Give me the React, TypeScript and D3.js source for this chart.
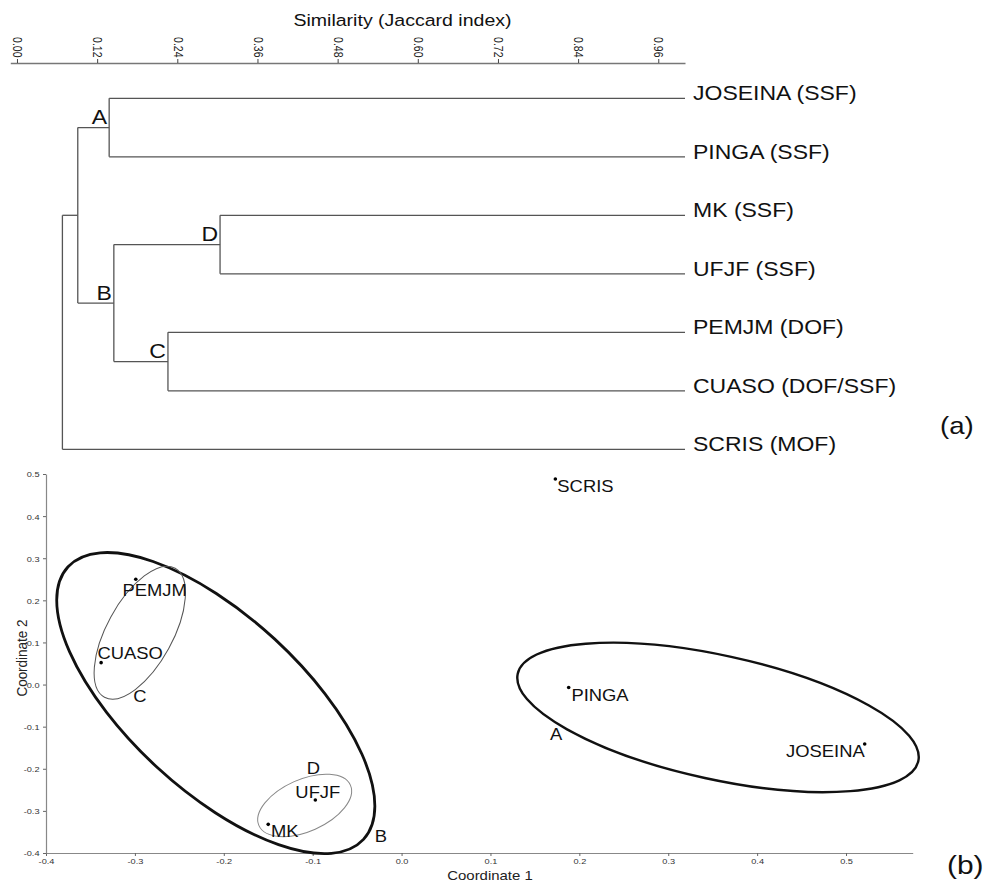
import React, { useEffect, useRef } from 'react';
import * as d3 from 'd3';

const W = 985;
const H = 884;
const FONT = '"Liberation Sans", Arial, Helvetica, sans-serif';
// the lettering in the original figure is a little stretched sideways
const SX = 1.15;

// ---- (a) dendrogram ----
const leafNames = ['JOSEINA (SSF)', 'PINGA (SSF)', 'MK (SSF)', 'UFJF (SSF)', 'PEMJM (DOF)', 'CUASO (DOF/SSF)', 'SCRIS (MOF)'];
// merges, children first
const clusterIds = ['A', 'D', 'C', 'B', 'AB', 'root'];
const clusterLeft = ['JOSEINA (SSF)', 'MK (SSF)', 'PEMJM (DOF)', 'D', 'A', 'AB'];
const clusterRight = ['PINGA (SSF)', 'UFJF (SSF)', 'CUASO (DOF/SSF)', 'C', 'B', 'SCRIS (MOF)'];
const clusterSimilarity = [0.138, 0.304, 0.226, 0.145, 0.091, 0.068];
const labelledClusters = ['A', 'B', 'C', 'D'];
const similarityTicks = [0, 0.12, 0.24, 0.36, 0.48, 0.6, 0.72, 0.84, 0.96];

// ---- (b) ordination ----
const siteNames = ['SCRIS', 'PEMJM', 'CUASO', 'UFJF', 'MK', 'PINGA', 'JOSEINA'];
const coord1 = [0.173, -0.299, -0.338, -0.097, -0.15, 0.188, 0.521];
const coord2 = [0.488, 0.25, 0.052, -0.274, -0.332, -0.007, -0.141];
const coord1Ticks = [-0.4, -0.3, -0.2, -0.1, 0, 0.1, 0.2, 0.3, 0.4, 0.5];
const coord2Ticks = [-0.4, -0.3, -0.2, -0.1, 0, 0.1, 0.2, 0.3, 0.4, 0.5];

// groups circled on the ordination, centres in coordinate units
const groupNames = ['A', 'B', 'C', 'D'];
const groupCentre1 = [0.356, -0.209, -0.2945, -0.109];
const groupCentre2 = [-0.078, -0.044, 0.123, -0.287];

// drawing details (pixels)
const groupStyle = {
  A: { rx: 205, ry: 62, angle: 12.3, width: 2.4, color: '#111', lx: -168, ly: 22.5 },
  B: { rx: 201, ry: 87, angle: 42.7, width: 2.8, color: '#111', lx: 159, ly: 139 },
  C: { rx: 73.5, ry: 33, angle: -61.3, width: 1, color: '#555', lx: -6.5, ly: 69 },
  D: { rx: 50, ry: 26, angle: -23.9, width: 1, color: '#888', lx: 2, ly: -31.3 },
};
const siteLabelOffset = {
  SCRIS: [2, 13, 'start'],
  PEMJM: [-13.3, 16.7, 'start'],
  CUASO: [-3.7, -3.4, 'start'],
  UFJF: [-20, -2.3, 'start'],
  MK: [2.7, 12.4, 'start'],
  PINGA: [2.7, 13.3, 'start'],
  JOSEINA: [0, 13.3, 'end'],
};

const App = () => {
  const ref = useRef<SVGSVGElement>(null);

  useEffect(() => {
    const svg = d3.select(ref.current);
    svg.selectAll('*').remove();
    const g = svg.append('g').attr('font-family', FONT);

    // ================= dendrogram =================
    const xSim = d3.scaleLinear().domain([-0.01, 1]).range([10.3, 685]);
    const leafY = d3.scalePoint().domain(leafNames).range([98.3, 449.3]);

    const topAxis = g.append('g')
      .attr('transform', 'translate(0,63)')
      .call(d3.axisTop(xSim).tickValues(similarityTicks).tickSize(4).tickSizeOuter(0).tickFormat(d3.format('.2f')));
    topAxis.attr('font-family', FONT);
    topAxis.select('.domain').attr('stroke', '#777').attr('stroke-width', 1.6);
    topAxis.selectAll('.tick line').attr('stroke', '#444');
    topAxis.selectAll('.tick text')
      .attr('x', 0).attr('y', 0).attr('dy', null)
      .attr('text-anchor', 'end')
      .attr('font-size', 10.5)
      .attr('fill', '#222')
      .attr('transform', `translate(-4.3,-5.5) scale(${SX},1) rotate(90)`);

    g.append('text')
      .attr('transform', `translate(402.5,26) scale(${SX},1)`)
      .attr('text-anchor', 'middle')
      .attr('font-size', 17)
      .attr('fill', '#111')
      .text('Similarity (Jaccard index)');

    const simOf = new Map<string, number>();
    const yOf = new Map<string, number>();
    leafNames.forEach((n) => { simOf.set(n, 1); yOf.set(n, leafY(n) as number); });
    clusterIds.forEach((id, i) => {
      simOf.set(id, clusterSimilarity[i]);
      yOf.set(id, ((yOf.get(clusterLeft[i]) as number) + (yOf.get(clusterRight[i]) as number)) / 2);
    });

    const tree = g.append('g').attr('stroke', '#555').attr('stroke-width', 1.3);
    clusterIds.forEach((id, i) => {
      const x = xSim(clusterSimilarity[i]);
      const kids = [clusterLeft[i], clusterRight[i]];
      tree.append('line')
        .attr('x1', x).attr('x2', x)
        .attr('y1', yOf.get(kids[0])).attr('y2', yOf.get(kids[1]));
      kids.forEach((k) => {
        tree.append('line')
          .attr('x1', x).attr('x2', xSim(simOf.get(k) as number))
          .attr('y1', yOf.get(k)).attr('y2', yOf.get(k));
      });
    });

    g.selectAll('.leaf')
      .data(leafNames)
      .enter().append('text')
      .attr('class', 'leaf')
      .attr('transform', (d) => `translate(693,${(leafY(d) as number) + 1.7}) scale(${SX},1)`)
      .attr('font-size', 20)
      .attr('fill', '#111')
      .text((d) => d);

    g.selectAll('.node-label')
      .data(labelledClusters)
      .enter().append('text')
      .attr('class', 'node-label')
      .attr('transform', (d) => `translate(${xSim(simOf.get(d) as number) - 2},${(yOf.get(d) as number) - 3.5}) scale(${SX},1)`)
      .attr('text-anchor', 'end')
      .attr('font-size', 20)
      .attr('fill', '#111')
      .text((d) => d);

    g.append('text')
      .attr('transform', `translate(940,433.5) scale(${SX},1)`)
      .attr('font-size', 24)
      .attr('fill', '#111')
      .text('(a)');

    // ================= ordination =================
    const x1 = d3.scaleLinear().domain([-0.4, 0.575]).range([46, 912.7]);
    const y2 = d3.scaleLinear().domain([-0.4, 0.5]).range([853, 474]);
    const fmt = (d) => (+d).toFixed(1);

    const bottom = g.append('g')
      .attr('transform', 'translate(0,853)')
      .call(d3.axisBottom(x1).tickValues(coord1Ticks).tickSize(3).tickSizeOuter(0).tickFormat(fmt));
    const left = g.append('g')
      .attr('transform', 'translate(46,0)')
      .call(d3.axisLeft(y2).tickValues(coord2Ticks).tickSize(3).tickSizeOuter(0).tickFormat(fmt));
    [bottom, left].forEach((ax) => {
      ax.attr('font-family', FONT);
      ax.select('.domain').attr('stroke', '#888').attr('stroke-width', 1.2);
      ax.selectAll('.tick line').attr('stroke', '#666');
      ax.selectAll('.tick text').attr('x', 0).attr('y', 0).attr('dy', null)
        .attr('font-size', 8).attr('fill', '#333');
    });
    bottom.selectAll('.tick text')
      .attr('text-anchor', 'middle')
      .attr('transform', `translate(0,11) scale(${SX},1)`);
    left.selectAll('.tick text')
      .attr('text-anchor', 'end')
      .attr('transform', `translate(-6.5,2.9) scale(${SX},1)`);

    g.append('text')
      .attr('transform', `translate(490,880) scale(${SX},1)`)
      .attr('text-anchor', 'middle')
      .attr('font-size', 13)
      .attr('fill', '#222')
      .text('Coordinate 1');
    g.append('text')
      .attr('transform', `translate(26.5,658) scale(${SX},1) rotate(-90)`)
      .attr('text-anchor', 'middle')
      .attr('font-size', 13.5)
      .attr('fill', '#222')
      .text('Coordinate 2');

    // group ellipses
    groupNames.forEach((name, i) => {
      const s = groupStyle[name];
      const cx = x1(groupCentre1[i]);
      const cy = y2(groupCentre2[i]);
      g.append('ellipse')
        .attr('cx', cx).attr('cy', cy)
        .attr('rx', s.rx).attr('ry', s.ry)
        .attr('transform', `rotate(${s.angle},${cx},${cy})`)
        .attr('fill', 'none')
        .attr('stroke', s.color)
        .attr('stroke-width', s.width);
      g.append('text')
        .attr('transform', `translate(${cx + s.lx},${cy + s.ly}) scale(${SX},1)`)
        .attr('font-size', 16)
        .attr('fill', '#111')
        .text(name);
    });

    // sites
    const sites = siteNames.map((n, i) => ({ name: n, c1: coord1[i], c2: coord2[i] }));
    g.selectAll('.site')
      .data(sites)
      .enter().append('circle')
      .attr('class', 'site')
      .attr('cx', (d) => x1(d.c1))
      .attr('cy', (d) => y2(d.c2))
      .attr('r', 1.8)
      .attr('fill', '#000');
    g.selectAll('.site-label')
      .data(sites)
      .enter().append('text')
      .attr('class', 'site-label')
      .attr('transform', (d) => {
        const o = siteLabelOffset[d.name];
        return `translate(${x1(d.c1) + o[0]},${y2(d.c2) + o[1]}) scale(${SX},1)`;
      })
      .attr('text-anchor', (d) => siteLabelOffset[d.name][2])
      .attr('font-size', 16)
      .attr('fill', '#111')
      .text((d) => d.name);

    g.append('text')
      .attr('transform', `translate(947,874.4) scale(${SX},1)`)
      .attr('font-size', 26)
      .attr('fill', '#111')
      .text('(b)');
  }, []);

  return (
    <svg
      ref={ref}
      width={W}
      height={H}
      style={{ position: 'absolute', left: 0, top: 0, background: '#fff' }}
    ></svg>
  );
};

export default App;
